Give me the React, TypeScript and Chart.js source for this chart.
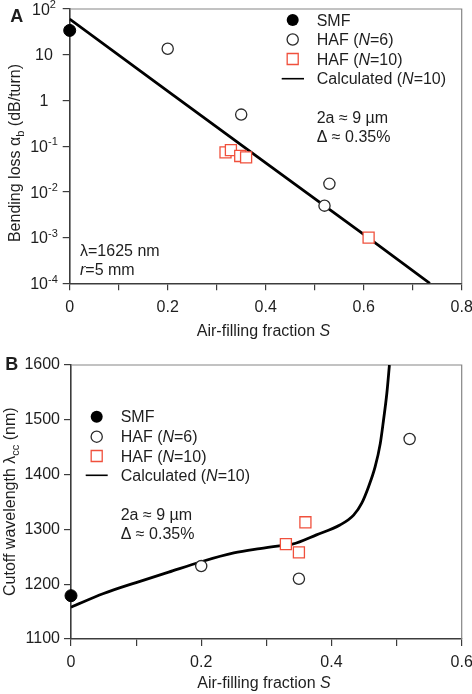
import React, { useEffect, useRef } from 'react';
import { Chart, registerables } from 'chart.js';

Chart.register(...registerables);

const FONT = '"Liberation Sans", Arial, Helvetica, sans-serif';
const TEXT = '#1e1e1e';
const AXIS = '#3c3c3c';
const FRAME = '#858585';
const RED = '#f0503c';

// ---------- Panel A: bending loss ----------
const aSmfS = [0];
const aSmfLoss = [34];
const aHaf6S = [0.2, 0.35, 0.52, 0.53];
const aHaf6Loss = [13.5, 0.49, 0.005, 0.015];
const aHaf10S = [0.318, 0.329, 0.348, 0.36, 0.61];
const aHaf10Loss = [0.073, 0.082, 0.061, 0.057, 0.001];
const aCalcS = [0, 0.2, 0.4, 0.6, 0.735];
const aCalcLoss = [60, 1.6, 0.043, 0.00117, 0.0001];
const aXTicks = [0, 0.1, 0.2, 0.3, 0.4, 0.5, 0.6, 0.7, 0.8];
const aXTickLabels = ['0', '', '0.2', '', '0.4', '', '0.6', '', '0.8'];
const aYTicks = [100, 10, 1, 0.1, 0.01, 0.001, 0.0001];
const aYTickBase = ['10', '10', '1', '10', '10', '10', '10'];
const aYTickExp = ['2', '', '', '-1', '-2', '-3', '-4'];

// ---------- Panel B: cutoff wavelength ----------
const bSmfS = [0];
const bSmfCutoff = [1179];
const bHaf6S = [0.2, 0.35, 0.52];
const bHaf6Cutoff = [1233, 1210, 1465];
const bHaf10S = [0.33, 0.35, 0.36];
const bHaf10Cutoff = [1273, 1258, 1313];
const bCalcS = [0, 0.05, 0.1, 0.15, 0.2, 0.25, 0.29, 0.32, 0.34, 0.377, 0.413, 0.434, 0.4465, 0.457, 0.467, 0.475, 0.48, 0.485, 0.489];
const bCalcCutoff = [1158, 1183, 1203, 1222, 1241, 1257, 1265, 1270, 1273, 1290, 1308, 1326, 1348, 1378, 1414, 1457, 1500, 1548, 1600];
const bXTicks = [0, 0.1, 0.2, 0.3, 0.4, 0.5, 0.6];
const bXTickLabels = ['0', '', '0.2', '', '0.4', '', '0.6'];
const bYTicks = [1100, 1200, 1300, 1400, 1500, 1600];
const bYTickLabels = ['1100', '1200', '1300', '1400', '1500', '1600'];

const legendNames = ['SMF', 'HAF (N=6)', 'HAF (N=10)', 'Calculated (N=10)'];

type Seg = { t: string; italic?: boolean; bold?: boolean; size?: number; rise?: number };

function segFont(s: Seg) {
  return `${s.italic ? 'italic ' : ''}${s.bold ? 'bold ' : ''}${s.size ?? 16}px ${FONT}`;
}

function drawRich(ctx: CanvasRenderingContext2D, segs: Seg[], x: number, baseline: number, align: 'left' | 'center' | 'right') {
  ctx.save();
  ctx.fillStyle = TEXT;
  ctx.textBaseline = 'alphabetic';
  ctx.textAlign = 'left';
  const widths = segs.map((s) => {
    ctx.font = segFont(s);
    return ctx.measureText(s.t).width;
  });
  const total = widths.reduce((a, b) => a + b, 0);
  let cx = align === 'left' ? x : align === 'center' ? x - total / 2 : x - total;
  segs.forEach((s, i) => {
    ctx.font = segFont(s);
    ctx.fillText(s.t, cx, baseline - (s.rise ?? 0));
    cx += widths[i];
  });
  ctx.restore();
}

function legendSegs(name: string): Seg[] {
  const m = name.match(/^(.*\()N(=.*)$/);
  if (!m) return [{ t: name }];
  return [{ t: m[1] }, { t: 'N', italic: true }, { t: m[2] }];
}

const smfStyle = { pointStyle: 'circle', pointRadius: 6, backgroundColor: '#000', borderColor: '#000', borderWidth: 1 };
const haf6Style = { pointStyle: 'circle', pointRadius: 5.6, backgroundColor: '#fff', borderColor: '#2a2a2a', borderWidth: 1.3 };
const haf10Style = { pointStyle: 'rect', pointRadius: 7.8, backgroundColor: '#fff', borderColor: RED, borderWidth: 1.3 };

function drawLegend(ctx: CanvasRenderingContext2D, mx: number, tx: number, rows: number[], lineL: number, lineR: number) {
  ctx.save();
  ctx.beginPath();
  ctx.arc(mx, rows[0], 6, 0, Math.PI * 2);
  ctx.fillStyle = '#000';
  ctx.fill();
  ctx.beginPath();
  ctx.arc(mx, rows[1], 5.6, 0, Math.PI * 2);
  ctx.fillStyle = '#fff';
  ctx.fill();
  ctx.lineWidth = 1.3;
  ctx.strokeStyle = '#2a2a2a';
  ctx.stroke();
  const h = 7.8 * Math.SQRT1_2;
  ctx.beginPath();
  ctx.rect(mx - h, rows[2] - h, 2 * h, 2 * h);
  ctx.fillStyle = '#fff';
  ctx.fill();
  ctx.strokeStyle = RED;
  ctx.stroke();
  ctx.beginPath();
  ctx.moveTo(lineL, rows[3]);
  ctx.lineTo(lineR, rows[3]);
  ctx.strokeStyle = '#000';
  ctx.lineWidth = 1.6;
  ctx.stroke();
  ctx.restore();
  legendNames.forEach((n, i) => drawRich(ctx, legendSegs(n), tx, rows[i] + 5.7, 'left'));
}

function drawYTitle(ctx: CanvasRenderingContext2D, segs: Seg[], baseX: number, cy: number) {
  ctx.save();
  ctx.translate(baseX, cy);
  ctx.rotate(-Math.PI / 2);
  drawRich(ctx, segs, 0, 0, 'center');
  ctx.restore();
}

const framePlugin = {
  id: 'frameLines',
  beforeDatasetsDraw(chart: any) {
    const { ctx, chartArea: a } = chart;
    ctx.save();
    ctx.strokeStyle = FRAME;
    ctx.lineWidth = 1.2;
    ctx.beginPath();
    ctx.moveTo(a.left, a.top);
    ctx.lineTo(a.right, a.top);
    ctx.lineTo(a.right, a.bottom);
    ctx.stroke();
    ctx.restore();
  },
};

const pts = (xs: number[], ys: number[]) => xs.map((x, i) => ({ x, y: ys[i] }));

function axisCommon(tickVals: number[], labels: string[] | null, pad: number, extra: any) {
  return {
    type: 'linear',
    afterBuildTicks: (s: any) => {
      s.ticks = tickVals.map((v) => ({ value: v }));
    },
    ticks: {
      display: labels !== null,
      callback: (_v: any, i: number) => (labels ? labels[i] : ''),
      font: { size: 16, family: FONT },
      color: TEXT,
      autoSkip: false,
      maxRotation: 0,
      padding: pad,
    },
    grid: { drawOnChartArea: false, drawTicks: true, tickLength: 7, color: AXIS, lineWidth: 1.2 },
    border: { display: true, color: AXIS, width: 1.6 },
    ...extra,
  };
}

function zeroPad(s: any) {
  s.paddingLeft = 0;
  s.paddingRight = 0;
  s.paddingTop = 0;
  s.paddingBottom = 0;
}

function configA(): any {
  return {
    type: 'scatter',
    data: {
      datasets: [
        { label: legendNames[2], data: pts(aHaf10S, aHaf10Loss), ...haf10Style, clip: false },
        { label: legendNames[1], data: pts(aHaf6S, aHaf6Loss), ...haf6Style, clip: false },
        { label: legendNames[0], data: pts(aSmfS, aSmfLoss), ...smfStyle, clip: false },
        { label: legendNames[3], data: pts(aCalcS, aCalcLoss), showLine: true, pointRadius: 0, borderColor: '#000', borderWidth: 2.8, tension: 0 },
      ],
    },
    options: {
      responsive: false,
      animation: false,
      events: [],
      devicePixelRatio: 1,
      layout: { autoPadding: false, padding: { top: 9, right: 10.3, left: 0, bottom: 0 } },
      plugins: { legend: { display: false }, tooltip: { enabled: false } },
      scales: {
        x: axisCommon(aXTicks, aXTickLabels, 7.5, {
          min: 0,
          max: 0.8,
          afterFit: (s: any) => {
            s.height = 56.7;
            zeroPad(s);
          },
        }),
        y: axisCommon(aYTicks, null, 4, {
          type: 'logarithmic',
          min: 0.0001,
          max: 100,
          afterFit: (s: any) => {
            s.width = 69.7;
            zeroPad(s);
          },
        }),
      },
    },
    plugins: [
      framePlugin,
      {
        id: 'textA',
        afterDraw(chart: any) {
          const ctx = chart.ctx as CanvasRenderingContext2D;
          const y = chart.scales.y;
          aYTicks.forEach((v, i) => {
            const py = y.getPixelForValue(v);
            const segs: Seg[] = [{ t: aYTickBase[i] }];
            if (aYTickExp[i]) segs.push({ t: aYTickExp[i], size: 11, rise: 6.5 });
            drawRich(ctx, segs, 44, py + 5.7, 'center');
          });
          drawRich(ctx, [{ t: 'A', bold: true, size: 18 }], 16.7, 21.5, 'center');
          drawLegend(ctx, 292.7, 316.7, [20, 39.5, 59, 78.7], 281.7, 304);
          drawRich(ctx, [{ t: '2a ≈ 9 µm' }], 316.7, 117.7 + 5.7, 'left');
          drawRich(ctx, [{ t: 'Δ ≈ 0.35%' }], 316.7, 136.7 + 5.7, 'left');
          drawRich(ctx, [{ t: 'λ=1625 nm' }], 80, 250 + 5.7, 'left');
          drawRich(ctx, [{ t: 'r', italic: true }, { t: '=5 mm' }], 80, 269.3 + 5.7, 'left');
          drawRich(ctx, [{ t: 'Air-filling fraction ' }, { t: 'S', italic: true }], 263.5, 330 + 5.7, 'center');
          drawYTitle(ctx, [{ t: 'Bending loss ' }, { t: 'α' }, { t: 'b', size: 11, rise: -3.5 }, { t: ' (dB/turn)' }], 20, 153);
        },
      },
    ],
  };
}

function configB(): any {
  return {
    type: 'scatter',
    data: {
      datasets: [
        { label: legendNames[2], data: pts(bHaf10S, bHaf10Cutoff), ...haf10Style, clip: false },
        { label: legendNames[1], data: pts(bHaf6S, bHaf6Cutoff), ...haf6Style, clip: false },
        { label: legendNames[0], data: pts(bSmfS, bSmfCutoff), ...smfStyle, clip: false },
        { label: legendNames[3], data: pts(bCalcS, bCalcCutoff), showLine: true, pointRadius: 0, borderColor: '#000', borderWidth: 2.8, cubicInterpolationMode: 'monotone' },
      ],
    },
    options: {
      responsive: false,
      animation: false,
      events: [],
      devicePixelRatio: 1,
      layout: { autoPadding: false, padding: { top: 25, right: 10.3, left: 0, bottom: 0 } },
      plugins: { legend: { display: false }, tooltip: { enabled: false } },
      scales: {
        x: axisCommon(bXTicks, bXTickLabels, 6.5, {
          min: 0,
          max: 0.6,
          afterFit: (s: any) => {
            s.height = 55;
            zeroPad(s);
          },
        }),
        y: axisCommon(bYTicks, bYTickLabels, 4, {
          min: 1100,
          max: 1600,
          afterFit: (s: any) => {
            s.width = 71;
            zeroPad(s);
          },
        }),
      },
    },
    plugins: [
      framePlugin,
      {
        id: 'textB',
        afterDraw(chart: any) {
          const ctx = chart.ctx as CanvasRenderingContext2D;
          drawRich(ctx, [{ t: 'B', bold: true, size: 18 }], 11.7, 29.5, 'center');
          drawLegend(ctx, 96.7, 120.7, [76.7, 96.7, 116, 135.3], 85.7, 107.7);
          drawRich(ctx, [{ t: '2a ≈ 9 µm' }], 120.7, 174.3 + 5.7, 'left');
          drawRich(ctx, [{ t: 'Δ ≈ 0.35%' }], 120.7, 193.3 + 5.7, 'left');
          drawRich(ctx, [{ t: 'Air-filling fraction ' }, { t: 'S', italic: true }], 264, 342.7 + 5.7, 'center');
          drawYTitle(ctx, [{ t: 'Cutoff wavelength ' }, { t: 'λ' }, { t: 'cc', size: 11, rise: -3.5 }, { t: ' (nm)' }], 15, 161.7);
        },
      },
    ],
  };
}

function Panel({ make, top, height }: { make: () => any; top: number; height: number }) {
  const ref = useRef<HTMLCanvasElement>(null);
  useEffect(() => {
    const chart = new Chart(ref.current as HTMLCanvasElement, make());
    return () => chart.destroy();
  }, [make]);
  return (
    <canvas
      ref={ref}
      width={472}
      height={height}
      style={{ position: 'absolute', left: 0, top, width: 472, height, display: 'block' }}
    />
  );
}

export default function App() {
  return (
    <div style={{ position: 'absolute', left: 0, top: 0, width: 472, height: 694, background: '#fff' }}>
      <Panel make={configA} top={0} height={340} />
      <Panel make={configB} top={340} height={354} />
    </div>
  );
}
